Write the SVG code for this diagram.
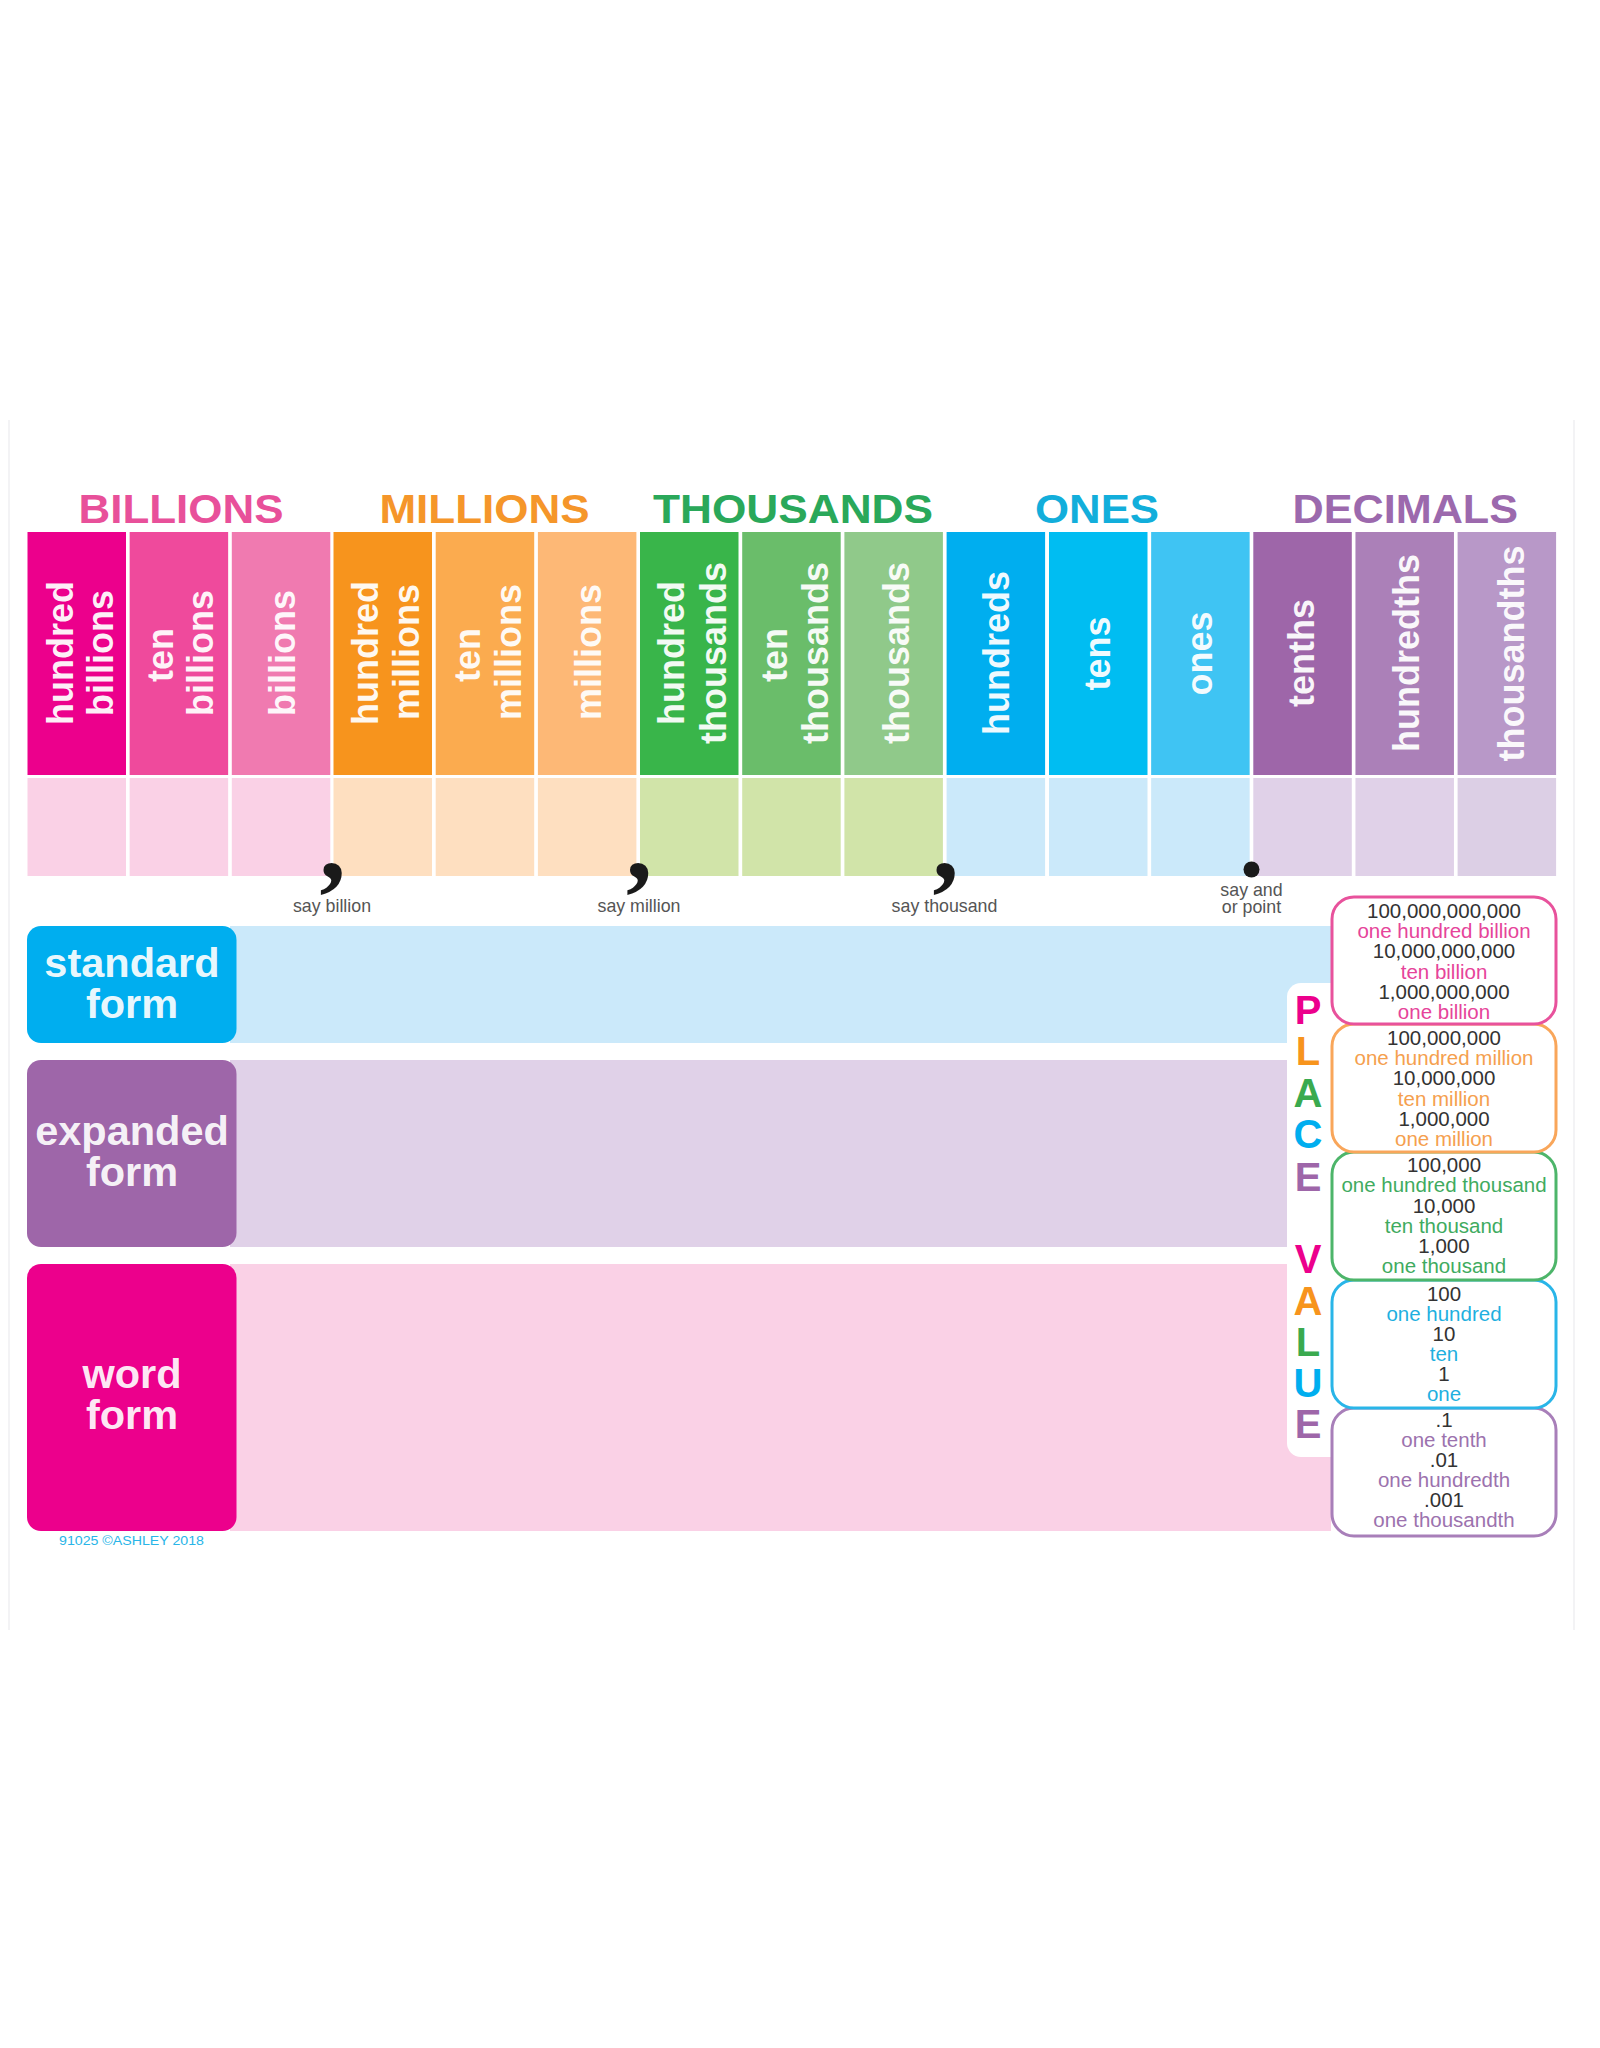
<svg xmlns="http://www.w3.org/2000/svg" width="1600" height="2048" viewBox="0 0 1600 2048">
<style>
text{font-family:"Liberation Sans",Arial,sans-serif}
.h{font-size:41px;font-weight:bold}
.c{font-size:36px;font-weight:bold;fill:#fff;fill-opacity:.94;text-anchor:middle}
.l{font-size:41.5px;font-weight:bold;fill:#fff;fill-opacity:.93;text-anchor:middle}
.s{font-size:17.8px;fill:#555;text-anchor:middle}
.k{font-size:105px;font-weight:bold;fill:#1a1a1a;text-anchor:middle;font-family:"Liberation Serif","Times New Roman",serif}
.n{font-size:20.5px;text-anchor:middle;fill:#333}
.p{font-size:40px;font-weight:bold;text-anchor:middle}
.b{fill:#fff;stroke-width:3}
.pk{fill:#ec008c}.or{fill:#f7941d}.gr{fill:#3aaa4f}.bl{fill:#00aeef}.pu{fill:#9e66a9}
</style>
<rect width="1600" height="2048" fill="#fff"/>
<g id="page-edges" fill="#f3f3f5">
<rect x="8" y="420" width="2" height="1210"/>
<rect x="1573" y="420" width="2" height="1210"/>
</g>
<g id="headers">
<text class="h" x="78.5" y="523" textLength="205" lengthAdjust="spacingAndGlyphs" fill="#e8509a">BILLIONS</text>
<text class="h" x="379.5" y="523" textLength="210" lengthAdjust="spacingAndGlyphs" fill="#f5962a">MILLIONS</text>
<text class="h" x="653" y="523" textLength="280" lengthAdjust="spacingAndGlyphs" fill="#2aa85a">THOUSANDS</text>
<text class="h" x="1035" y="523" textLength="124" lengthAdjust="spacingAndGlyphs" fill="#12aedb">ONES</text>
<text class="h" x="1292.5" y="523" textLength="225.5" lengthAdjust="spacingAndGlyphs" fill="#9c69ad">DECIMALS</text>
</g>
<g id="col-hundred-billions"><rect x="27.5" y="532" width="98.5" height="243" fill="#ec008c"/><rect x="27.5" y="778" width="98.5" height="98" fill="#fad1e6"/>
<text class="c" transform="translate(72.5 653) rotate(-90)">hundred</text><text class="c" transform="translate(113 653) rotate(-90)">billions</text></g>
<g id="col-ten-billions"><rect x="129.65" y="532" width="98.5" height="243" fill="#ef4a9c"/><rect x="129.65" y="778" width="98.5" height="98" fill="#fad1e6"/>
<text class="c" transform="translate(172.5 655) rotate(-90)">ten</text><text class="c" transform="translate(213 653) rotate(-90)">billions</text></g>
<g id="col-billions"><rect x="231.8" y="532" width="98.5" height="243" fill="#f07ab0"/><rect x="231.8" y="778" width="98.5" height="98" fill="#fad1e6"/>
<text class="c" transform="translate(294.5 653) rotate(-90)">billions</text></g>
<g id="col-hundred-millions"><rect x="333.5" y="532" width="98.5" height="243" fill="#f7941d"/><rect x="333.5" y="778" width="98.5" height="98" fill="#fedfc0"/>
<text class="c" transform="translate(377.5 653) rotate(-90)">hundred</text><text class="c" transform="translate(418.5 652) rotate(-90)">millions</text></g>
<g id="col-ten-millions"><rect x="435.7" y="532" width="98.5" height="243" fill="#fbab4f"/><rect x="435.7" y="778" width="98.5" height="98" fill="#fedfc0"/>
<text class="c" transform="translate(479.5 655) rotate(-90)">ten</text><text class="c" transform="translate(520.5 652) rotate(-90)">millions</text></g>
<g id="col-millions"><rect x="537.9" y="532" width="98.5" height="243" fill="#fdb876"/><rect x="537.9" y="778" width="98.5" height="98" fill="#fedfc0"/>
<text class="c" transform="translate(600.5 652) rotate(-90)">millions</text></g>
<g id="col-hundred-thousands"><rect x="640" y="532" width="98.5" height="243" fill="#39b54a"/><rect x="640" y="778" width="98.5" height="98" fill="#d1e4a9"/>
<text class="c" transform="translate(683.5 653) rotate(-90)">hundred</text><text class="c" transform="translate(725.5 653) rotate(-90)">thousands</text></g>
<g id="col-ten-thousands"><rect x="742.2" y="532" width="98.5" height="243" fill="#6abd6a"/><rect x="742.2" y="778" width="98.5" height="98" fill="#d1e4a9"/>
<text class="c" transform="translate(787 655) rotate(-90)">ten</text><text class="c" transform="translate(828 653) rotate(-90)">thousands</text></g>
<g id="col-thousands"><rect x="844.4" y="532" width="98.5" height="243" fill="#90c98a"/><rect x="844.4" y="778" width="98.5" height="98" fill="#d1e4a9"/>
<text class="c" transform="translate(908.5 653) rotate(-90)">thousands</text></g>
<g id="col-hundreds"><rect x="946.6" y="532" width="98.5" height="243" fill="#00aeef"/><rect x="946.6" y="778" width="98.5" height="98" fill="#cbe9fa"/>
<text class="c" transform="translate(1009 653) rotate(-90)">hundreds</text></g>
<g id="col-tens"><rect x="1049" y="532" width="98.5" height="243" fill="#00bdf2"/><rect x="1049" y="778" width="98.5" height="98" fill="#cbe9fa"/>
<text class="c" transform="translate(1110 653.5) rotate(-90)">tens</text></g>
<g id="col-ones"><rect x="1151.15" y="532" width="98.5" height="243" fill="#3fc4f3"/><rect x="1151.15" y="778" width="98.5" height="98" fill="#cbe9fa"/>
<text class="c" transform="translate(1212 653.5) rotate(-90)">ones</text></g>
<g id="col-tenths"><rect x="1253.3" y="532" width="98.5" height="243" fill="#9e66a9"/><rect x="1253.3" y="778" width="98.5" height="98" fill="#e0d1e8"/>
<text class="c" transform="translate(1314 653) rotate(-90)">tenths</text></g>
<g id="col-hundredths"><rect x="1355.45" y="532" width="98.5" height="243" fill="#ab80b8"/><rect x="1355.45" y="778" width="98.5" height="98" fill="#e0d1e8"/>
<text class="c" transform="translate(1419 653) rotate(-90)">hundredths</text></g>
<g id="col-thousandths"><rect x="1457.6" y="532" width="98.5" height="243" fill="#b898c8"/><rect x="1457.6" y="778" width="98.5" height="98" fill="#dccfe5"/>
<text class="c" transform="translate(1523.5 653.5) rotate(-90)">thousandths</text></g>
<g id="separators">
<text class="k" x="332.5" y="878.5">,</text><text class="s" x="332" y="912">say billion</text>
<text class="k" x="639" y="878.5">,</text><text class="s" x="639" y="912">say million</text>
<text class="k" x="945.5" y="878.5">,</text><text class="s" x="944.5" y="912">say thousand</text>
<circle cx="1251.5" cy="869.5" r="8" fill="#1a1a1a"/>
<text class="s" x="1251.5" y="895.5">say and</text><text class="s" x="1251.5" y="912.5">or point</text>
</g>
<g id="band-standard"><rect x="230" y="926" width="1101" height="117" fill="#cbe9fa"/></g>
<g id="band-expanded"><rect x="230" y="1060" width="1070" height="187" fill="#e0d1e8"/></g>
<g id="band-word"><rect x="230" y="1264" width="1101" height="267" fill="#fad1e6"/></g>
<g id="label-standard"><rect x="27" y="926" width="209.5" height="117" rx="14" class="bl"/><text class="l"><tspan x="132" y="977">standard</tspan><tspan x="132" y="1018">form</tspan></text></g>
<g id="label-expanded"><rect x="27" y="1060" width="209.5" height="187" rx="14" class="pu"/><text class="l"><tspan x="132" y="1145">expanded</tspan><tspan x="132" y="1186">form</tspan></text></g>
<g id="label-word"><rect x="27" y="1264" width="209.5" height="267" rx="14" class="pk"/><text class="l"><tspan x="132" y="1387.5">word</tspan><tspan x="132" y="1428.5">form</tspan></text></g>
<text id="copyright" x="59" y="1544.5" font-size="12.5" fill="#29b5e8" textLength="145" lengthAdjust="spacingAndGlyphs">91025 ©ASHLEY 2018</text>
<g id="place-value-tab">
<rect x="1287" y="983" width="60" height="474" rx="14" fill="#fff"/>
<text class="p pk" x="1308" y="1024">P</text><text class="p or" x="1308" y="1065">L</text><text class="p gr" x="1308" y="1106.5">A</text><text class="p bl" x="1308" y="1148">C</text><text class="p pu" x="1308" y="1190.5">E</text>
<text class="p pk" x="1308" y="1273">V</text><text class="p or" x="1308" y="1315">A</text><text class="p gr" x="1308" y="1356">L</text><text class="p bl" x="1308" y="1397">U</text><text class="p pu" x="1308" y="1438">E</text>
</g>
<g id="box-decimals"><rect x="1332" y="1408" width="224" height="128" rx="22" class="b" stroke="#a87fb9"/>
<text class="n" x="1444" y="1427">.1</text><text class="n" x="1444" y="1447" style="fill:#9c72ae">one tenth</text><text class="n" x="1444" y="1467">.01</text><text class="n" x="1444" y="1487" style="fill:#9c72ae">one hundredth</text><text class="n" x="1444" y="1507">.001</text><text class="n" x="1444" y="1527" style="fill:#9c72ae">one thousandth</text></g>
<g id="box-ones"><rect x="1332" y="1280" width="224" height="128" rx="22" class="b" stroke="#29b5e8"/>
<text class="n" x="1444" y="1300.5">100</text><text class="n" x="1444" y="1320.5" style="fill:#1fb0e0">one hundred</text><text class="n" x="1444" y="1340.5">10</text><text class="n" x="1444" y="1361" style="fill:#1fb0e0">ten</text><text class="n" x="1444" y="1381">1</text><text class="n" x="1444" y="1401" style="fill:#1fb0e0">one</text></g>
<g id="box-thousands"><rect x="1332" y="1152" width="224" height="128" rx="22" class="b" stroke="#4db56a"/>
<text class="n" x="1444" y="1172">100,000</text><text class="n" x="1444" y="1192" style="fill:#3fab60">one hundred thousand</text><text class="n" x="1444" y="1212.5">10,000</text><text class="n" x="1444" y="1233" style="fill:#3fab60">ten thousand</text><text class="n" x="1444" y="1253">1,000</text><text class="n" x="1444" y="1273" style="fill:#3fab60">one thousand</text></g>
<g id="box-millions"><rect x="1332" y="1024" width="224" height="128" rx="22" class="b" stroke="#f9a65a"/>
<text class="n" x="1444" y="1045">100,000,000</text><text class="n" x="1444" y="1065" style="fill:#f5a04e">one hundred million</text><text class="n" x="1444" y="1085">10,000,000</text><text class="n" x="1444" y="1105.5" style="fill:#f5a04e">ten million</text><text class="n" x="1444" y="1125.5">1,000,000</text><text class="n" x="1444" y="1145.5" style="fill:#f5a04e">one million</text></g>
<g id="box-billions"><rect x="1332" y="897" width="224" height="127" rx="22" class="b" stroke="#e8529c"/>
<text class="n" x="1444" y="918">100,000,000,000</text><text class="n" x="1444" y="938" style="fill:#e6449a">one hundred billion</text><text class="n" x="1444" y="958">10,000,000,000</text><text class="n" x="1444" y="979" style="fill:#e6449a">ten billion</text><text class="n" x="1444" y="999">1,000,000,000</text><text class="n" x="1444" y="1019" style="fill:#e6449a">one billion</text></g>
</svg>
